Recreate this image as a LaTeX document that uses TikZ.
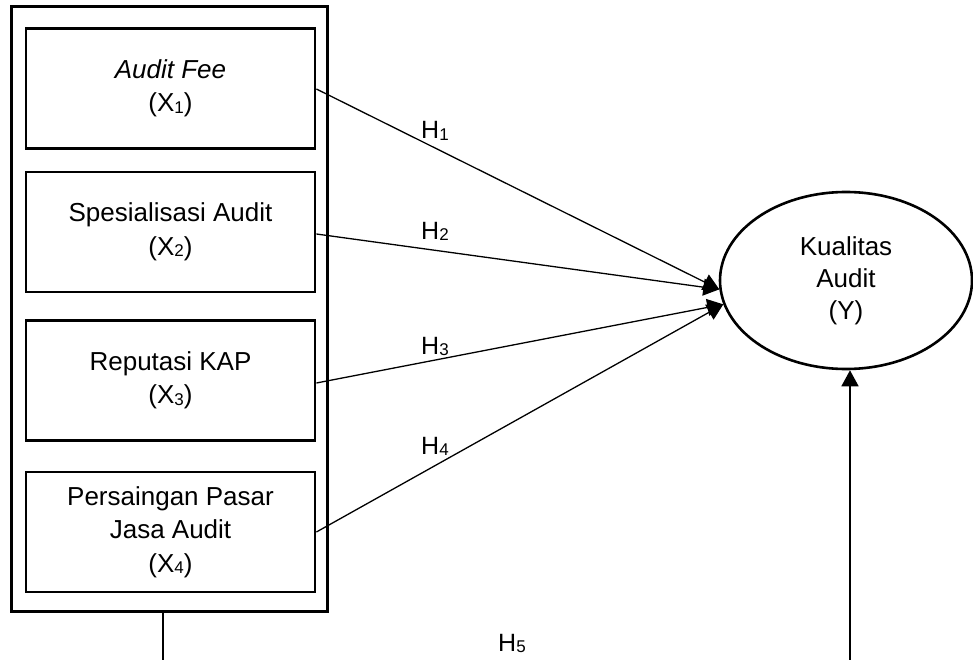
\documentclass[tikz,border=0pt]{standalone}
\usepackage{fontspec}
\setmainfont{Liberation Sans}
\usetikzlibrary{shapes.geometric,arrows.meta}
% lowered, smaller index digit (X1, H1, ...)
\newcommand\subidx[1]{\raisebox{-1.5pt}{\fontsize{17}{17}\selectfont #1}}
\begin{document}
\begin{tikzpicture}[x=1pt,y=-1pt,
  groupbox/.style={draw, line width=3pt, minimum width=316pt, minimum height=604pt, inner sep=0pt},
  varbox/.style={draw, line width=2.8pt, minimum width=289pt, minimum height=120pt,
    inner sep=0pt, align=center, font=\fontsize{26}{33.5}\selectfont},
  target/.style={draw, ellipse, line width=2.6pt, minimum width=252pt, minimum height=177pt,
    inner sep=0pt, align=center, font=\fontsize{26}{32}\selectfont},
  tip/.style={-{Triangle[length=16pt,width=17pt]}},
  hyp/.style={line width=1.3pt, tip},
  hlabel/.style={anchor=base west, inner sep=0pt, font=\fontsize{25}{25}\selectfont}]
\useasboundingbox (0,0) rectangle (973,660);

% group of independent variables
\node[groupbox] (grp) at (169,309) {};
\node[varbox] (x1) at (170.5,88.5) {\textit{Audit Fee}\\(X\subidx{1})};
\node[varbox] (x2) at (170.5,232) {Spesialisasi Audit\\(X\subidx{2})};
\node[varbox] (x3) at (170.5,380.5) {Reputasi KAP\\(X\subidx{3})};
\node[varbox] (x4) at (170.5,532) {Persaingan Pasar\\Jasa Audit\\(X\subidx{4})};

% dependent variable
\node[target] (y) at (846,280.5) {Kualitas\\Audit\\(Y)};

% hypotheses H1--H4
\draw[hyp] ([yshift=-0.5pt]x1.east) -- (y.184);
\draw[hyp] ([yshift=-2pt]x2.east) -- (y.184);
\draw[hyp] ([yshift=-2.5pt]x3.east) -- (y.191);
\draw[hyp] (x4.east) -- (y.191);

\node[hlabel] (h1) at (421,139) {H\subidx{1}};
\node[hlabel] (h2) at (421,239) {H\subidx{2}};
\node[hlabel] (h3) at (421,354) {H\subidx{3}};
\node[hlabel] (h4) at (421,454) {H\subidx{4}};

% joint hypothesis H5 from the whole group
\coordinate (b1) at (163,660);
\coordinate (b2) at (850,660);
\draw[line width=1.6pt] (b1 |- grp.south) -- (b1);
\draw[line width=1.6pt, tip] (b2) -- (b2 |- y.south);
\node[hlabel] (h5) at (498,651) {H\subidx{5}};
\end{tikzpicture}
\end{document}
